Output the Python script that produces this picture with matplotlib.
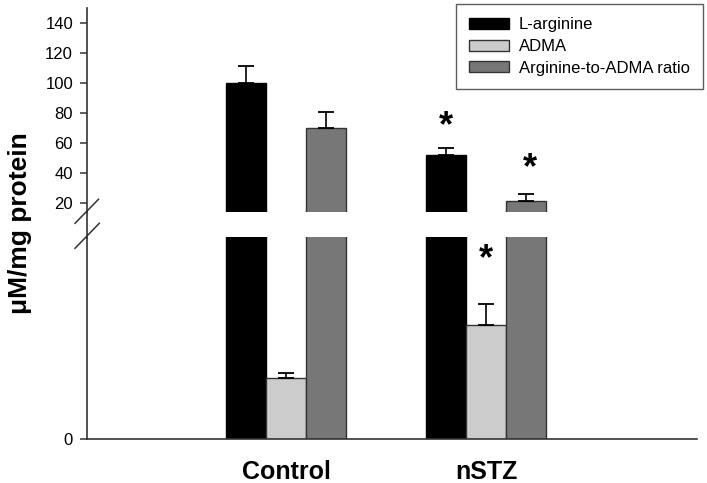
import matplotlib
matplotlib.use("Agg")
import matplotlib.pyplot as plt
from matplotlib.lines import Line2D
import numpy as np

plt.rcParams['font.family'] = ['Liberation Sans', 'DejaVu Sans']

groups = ["Control", "nSTZ"]
series = ["L-arginine", "ADMA", "Arginine-to-ADMA ratio"]
larg = [100.0, 52.4]
larg_err = [11.3, 4.5]
adma = [1.51, 2.82]
adma_err = [0.12, 0.52]
ratio = [70.2, 21.8]
ratio_err = [10.5, 4.4]
values = [larg, adma, ratio]
errors = [larg_err, adma_err, ratio_err]
colors = ["#000000", "#cccccc", "#777777"]
edges = ["#000000", "#333333", "#333333"]
upper_ticks = [20, 40, 60, 80, 100, 120, 140]
stars_upper = [(1, 0, 71.0), (1, 2, 43.3)]   # (group, series, y)
stars_lower = [(1, 1, 4.43)]

W, H = 707, 483
fig = plt.figure(figsize=(W / 100, H / 100), dpi=100)

def fbox(x0, y0, x1, y1):
    return [x0 / W, 1 - y1 / H, (x1 - x0) / W, (y1 - y0) / H]

ax_up = fig.add_axes(fbox(87, 8, 697, 212))
ax_lo = fig.add_axes(fbox(87, 237, 697, 439))

x = np.arange(len(groups))
bw = 0.2
offsets = [-bw, 0, bw]
handles = []
for ax in (ax_up, ax_lo):
    for i in range(3):
        b = ax.bar(x + offsets[i], values[i], width=bw, color=colors[i],
                   edgecolor=edges[i], linewidth=1.0, zorder=2)
        ax.errorbar(x + offsets[i], values[i],
                    yerr=[np.zeros(len(groups)), errors[i]],
                    fmt='none', ecolor='black', elinewidth=1.2,
                    capsize=6, capthick=1.3, zorder=3)
        if ax is ax_up:
            handles.append(b)
    ax.set_xlim(-0.995, 2.055)
    for s in ("top", "right"):
        ax.spines[s].set_visible(False)
    ax.spines["left"].set_color("#333333")
    ax.spines["left"].set_linewidth(1.2)
    ax.tick_params(axis='x', bottom=False, labelbottom=False)
    ax.tick_params(axis='y', direction='out', length=5, width=1.1,
                   color="#333333", labelsize=12, pad=5)

ax_up.spines["bottom"].set_visible(False)
ax_up.set_ylim(14.2, 150.2)
ax_up.set_yticks(upper_ticks)
ax_lo.set_ylim(0, 5)
ax_lo.set_yticks([0])
ax_lo.spines["bottom"].set_color("#333333")
ax_lo.spines["bottom"].set_linewidth(1.2)

for g, s, yv in stars_upper:
    ax_up.text(x[g] + offsets[s] + (0.02 if s == 2 else 0), yv, "*",
               ha='center', va='center', fontsize=26, fontweight='bold')
for g, s, yv in stars_lower:
    ax_lo.text(x[g] + offsets[s], yv, "*", ha='center', va='center',
               fontsize=26, fontweight='bold')

# group labels
for i, g in enumerate(groups):
    ax_lo.text(x[i], -0.104, g, transform=ax_lo.get_xaxis_transform(),
               ha='center', va='top', fontsize=18, fontweight='bold')

# continuous axis line across the gap and break marks
def fl(xs, ys, **kw):
    fig.add_artist(Line2D([v / W for v in xs], [1 - v / H for v in ys],
                          transform=fig.transFigure, **kw))

fl([86.6, 86.6], [211, 238], color="#333333", linewidth=1.2)
fl([75, 98.5], [223.3, 199.3], color="#333333", linewidth=1.1)
fl([75, 99.3], [248.3, 223.3], color="#333333", linewidth=1.1)

fig.text(20 / W, 1 - 223 / H, "\u03bcM/mg protein", rotation=90,
         ha='center', va='center', fontsize=19, fontweight='bold')

leg = fig.legend(handles, series, loc='upper right',
                 bbox_to_anchor=(703 / W, 1 - 4 / H),
                 bbox_transform=fig.transFigure, fontsize=12,
                 frameon=True, fancybox=False, edgecolor="#333333",
                 handlelength=2.35, handleheight=0.66, handletextpad=0.6,
                 labelspacing=0.4, borderpad=0.8, borderaxespad=0)
leg.get_frame().set_linewidth(1.0)

fig.savefig("out.png", dpi=100)
